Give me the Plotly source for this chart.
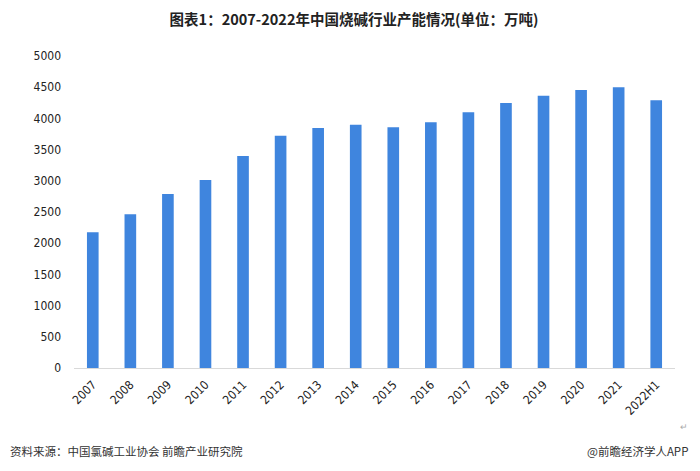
import plotly.graph_objects as go

years = ["2007", "2008", "2009", "2010", "2011", "2012", "2013", "2014",
         "2015", "2016", "2017", "2018", "2019", "2020", "2021", "2022H1"]
capacity = [2175, 2463, 2788, 3013, 3397, 3723, 3846, 3899,
            3857, 3937, 4097, 4247, 4364, 4455, 4498, 4290]
y_ticks = [0, 500, 1000, 1500, 2000, 2500, 3000, 3500, 4000, 4500, 5000]

title = "图表1：2007-2022年中国烧碱行业产能情况(单位：万吨)"
source = "资料来源：中国氯碱工业协会 前瞻产业研究院"
credit = "@前瞻经济学人APP"

FONT = "Noto Sans CJK SC"

fig = go.Figure()
fig.add_trace(go.Bar(
    x=years,
    y=capacity,
    marker_color="#3f85de",
    marker_line_width=0,
))

# the page body keeps its default 8px margin, so the figure is 8px smaller
fig.update_layout(
    width=692,
    height=463,
    margin=dict(l=66, r=25, t=48, b=103, autoexpand=False),
    paper_bgcolor="white",
    plot_bgcolor="white",
    bargap=0.69,
    showlegend=False,
    font=dict(family=FONT, color="#333333"),
    title=dict(
        text="<b>" + title + "</b>",
        x=0.5,
        xanchor="center",
        y=0.975,
        yanchor="middle",
        font=dict(family=FONT, size=14.5, color="#222222"),
    ),
    xaxis=dict(
        type="category",
        tickangle=-45,
        tickfont=dict(family="DejaVu Sans Condensed", size=12, color="#222222"),
        showline=True,
        linecolor="#d9d9d9",
        linewidth=1,
        showgrid=False,
        ticks="",
        ticklabelstandoff=4,
        automargin=False,
    ),
    yaxis=dict(
        range=[0, 5000],
        tickvals=y_ticks,
        tickfont=dict(family="DejaVu Sans Condensed", size=12, color="#222222"),
        showgrid=False,
        zeroline=False,
        showline=False,
        ticks="",
        ticklabelstandoff=12,
        automargin=False,
    ),
    annotations=[
        dict(text=source, x=-0.11, y=-0.266, xref="paper", yref="paper",
             xanchor="left", yanchor="middle", showarrow=False,
             font=dict(family=FONT, size=11.5, color="#333333")),
        dict(text=credit, x=1.025, y=-0.266, xref="paper", yref="paper",
             xanchor="right", yanchor="middle", showarrow=False,
             font=dict(family=FONT, size=11.5, color="#333333")),
        dict(text="↵", x=1.025, y=-0.186, xref="paper", yref="paper",
             xanchor="right", yanchor="middle", showarrow=False,
             font=dict(family=FONT, size=9, color="#aaaaaa")),
    ],
)

fig.write_html("out.html")
